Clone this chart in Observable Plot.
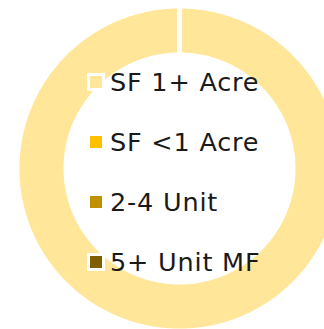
<!DOCTYPE html>
<html>
<head>
<meta charset="utf-8">
<script src="https://cdn.jsdelivr.net/npm/d3@7"></script>
<script src="https://cdn.jsdelivr.net/npm/@observablehq/plot@0.6"></script>
<style>
  html, body { margin: 0; padding: 0; background: #fff; }
  #wrap { position: relative; width: 324px; height: 329px; overflow: hidden; }
  #legend { position: absolute; left: 87px; top: 52px; font-family: "DejaVu Sans", sans-serif; font-size: 25.5px; letter-spacing: 0.8px; color: #1a1a1a; }
  .item { display: flex; align-items: center; height: 60px; white-space: nowrap; }
  .sw { width: 12px; height: 12px; border: 3px solid #fff; margin-right: 5px; flex: none; }
</style>
</head>
<body>
<div id="wrap"><div id="legend"></div></div>
<script>
const categories = ["SF 1+ Acre", "SF <1 Acre", "2-4 Unit", "5+ Unit MF"];
const values = [100, 0, 0, 0];
const colors = ["#FFE699", "#FFC000", "#BF9000", "#7F6000"];

const outerR = 162.5, innerR = 113.5;
const arcs = d3.pie().sort(null).value(d => d.value)(categories.map((c, i) => ({name: c, value: values[i]})));

const pts = [];
arcs.forEach(a => {
  const n = Math.max(2, Math.ceil((a.endAngle - a.startAngle) / 0.01));
  const ring = [];
  for (let k = 0; k <= n; k++) {
    const t = a.startAngle + (a.endAngle - a.startAngle) * k / n;
    ring.push({name: a.data.name, x: outerR * Math.sin(t), y: outerR * Math.cos(t)});
  }
  for (let k = n; k >= 0; k--) {
    const t = a.startAngle + (a.endAngle - a.startAngle) * k / n;
    ring.push({name: a.data.name, x: innerR * Math.sin(t), y: innerR * Math.cos(t)});
  }
  ring.push({...ring[0]});
  pts.push(...ring);
});

const chart = Plot.plot({
  width: 324, height: 329,
  margin: 0,
  x: {domain: [-179, 145], axis: null},
  y: {domain: [-161, 168], axis: null},
  color: {domain: categories, range: colors},
  marks: [
    Plot.line(pts, {x: "x", y: "y", z: "name", fill: "name", stroke: "#fff", strokeWidth: 5, strokeLinejoin: "miter", curve: "linear"})
  ]
});
document.getElementById("wrap").prepend(chart);

const legend = document.getElementById("legend");
categories.forEach((c, i) => {
  const it = document.createElement("div");
  it.className = "item";
  const sw = document.createElement("span");
  sw.className = "sw";
  sw.style.background = colors[i];
  const tx = document.createElement("span");
  tx.textContent = c;
  it.append(sw, tx);
  legend.append(it);
});
</script>
</body>
</html>
